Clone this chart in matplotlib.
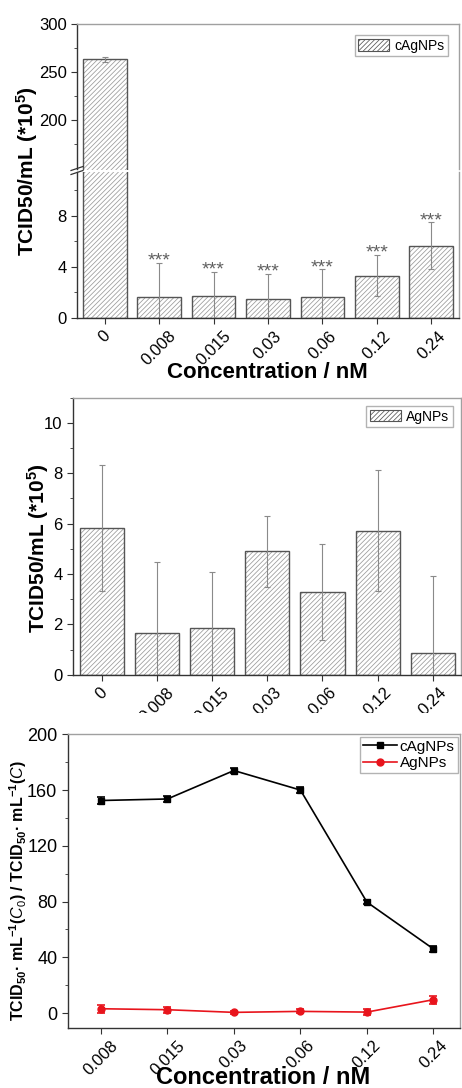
import matplotlib
matplotlib.use("Agg")
import matplotlib.pyplot as plt
import numpy as np
from matplotlib.lines import Line2D
from matplotlib.patches import Patch
from matplotlib.ticker import FixedLocator, MultipleLocator
from matplotlib.transforms import Bbox, TransformedBbox

plt.rcParams["font.family"] = ["Liberation Sans", "DejaVu Sans"]
plt.rcParams["mathtext.fontset"] = "custom"
plt.rcParams["mathtext.rm"] = "Liberation Sans"
plt.rcParams["mathtext.it"] = "Liberation Sans:italic"
plt.rcParams["mathtext.bf"] = "Liberation Sans:bold"
plt.rcParams["hatch.linewidth"] = 0.55

# ---- data ----
conc_bar = ["0", "0.008", "0.015", "0.03", "0.06", "0.12", "0.24"]
conc_line = ["0.008", "0.015", "0.03", "0.06", "0.12", "0.24"]

c_agnps_mean = [263.2, 1.67, 1.70, 1.49, 1.62, 3.32, 5.65]
c_agnps_err = [2.6, 2.67, 1.9, 1.96, 2.2, 1.63, 1.85]
c_agnps_sig = ["", "***", "***", "***", "***", "***", "***"]

agnps_mean = [5.84, 1.64, 1.87, 4.90, 3.29, 5.72, 0.87]
agnps_err = [2.5, 2.84, 2.21, 1.42, 1.91, 2.4, 3.03]

ratio_c = [152.5, 153.6, 174.0, 160.0, 79.6, 46.0]
ratio_c_err = [2.5, 2.0, 2.0, 2.0, 1.5, 2.0]
ratio_a = [3.1, 2.4, 0.5, 1.2, 0.7, 9.6]
ratio_a_err = [3.0, 2.2, 1.0, 1.5, 2.0, 3.0]

W, H = 462, 1088
HATCH_COL = "#9a9a9a"
EDGE_COL = "#555555"
ERR_COL = "#8a8a8a"
FRAME_COL = "#a0a0a0"
RED = "#e8141c"
HATCH = "///////"


def px_rect(x0, y0, x1, y1):
    return [x0 / W, 1 - y1 / H, (x1 - x0) / W, (y1 - y0) / H]


def style_axes(ax, top=True, bottom=True):
    for side in ("left", "bottom"):
        ax.spines[side].set_color("#333333")
        ax.spines[side].set_linewidth(1.0)
    for side in ("top", "right"):
        ax.spines[side].set_color(FRAME_COL)
        ax.spines[side].set_linewidth(1.0)
    ax.spines["top"].set_visible(top)
    ax.spines["bottom"].set_visible(bottom)
    ax.tick_params(which="both", direction="out", top=False, right=False,
                   labelsize=12, color="#333333")
    ax.tick_params(which="major", length=4)
    ax.tick_params(which="minor", length=2.5)


def hatched_bars(ax, x, h, err):
    ax.bar(x, h, width=0.8, color="white", edgecolor=HATCH_COL,
           linewidth=0, hatch=HATCH, zorder=1)
    ax.bar(x, h, width=0.8, fill=False, edgecolor=EDGE_COL,
           linewidth=1.0, zorder=2)
    ax.errorbar(x, h, yerr=err, fmt="none", ecolor=ERR_COL,
                elinewidth=0.8, capsize=2.5, capthick=0.8, zorder=3)


def bar_legend(ax, label, pad):
    handle = Patch(facecolor="white", edgecolor=EDGE_COL, hatch=HATCH,
                   linewidth=0.8)
    leg = ax.legend([handle], [label], loc="upper right", fontsize=10,
                    frameon=True, fancybox=False, handlelength=2.2,
                    handleheight=0.9, borderpad=0.25, handletextpad=0.4,
                    borderaxespad=pad)
    leg.get_frame().set_edgecolor(FRAME_COL)
    leg.get_frame().set_linewidth(1.0)


fig = plt.figure(figsize=(W / 100, H / 100), dpi=100)

# ---- panel 1: broken axis bar chart ----
xb = np.arange(len(conc_bar))
ax_hi = fig.add_axes(px_rect(77, 24, 459, 169.5))
ax_lo = fig.add_axes(px_rect(77, 172.5, 459, 318))

for ax in (ax_hi, ax_lo):
    hatched_bars(ax, xb, c_agnps_mean, c_agnps_err)
    ax.set_xlim(-0.51, 6.51)

ax_hi.set_ylim(148.4, 300)
ax_hi.yaxis.set_major_locator(FixedLocator([200, 250, 300]))
ax_hi.yaxis.set_minor_locator(FixedLocator([175, 225, 275]))
ax_hi.set_xticks([])
style_axes(ax_hi, top=True, bottom=False)
ax_hi.tick_params(axis="x", bottom=False, labelbottom=False)
bar_legend(ax_hi, "cAgNPs", 0.8)

ax_lo.set_ylim(0, 11.4)
ax_lo.yaxis.set_major_locator(FixedLocator([0, 4, 8]))
ax_lo.yaxis.set_minor_locator(FixedLocator([2, 6, 10]))
ax_lo.set_xticks(xb)
ax_lo.set_xticklabels(conc_bar)
style_axes(ax_lo, top=False, bottom=True)
ax_lo.tick_params(axis="x", labelrotation=45)

for xi, m, e, s in zip(xb, c_agnps_mean, c_agnps_err, c_agnps_sig):
    if s:
        ax_lo.annotate(s, (xi, m + e), xytext=(0, -2), textcoords="offset points",
                       ha="center", va="baseline", fontsize=14, color="#606060")

# break marks on the left spine
for dy in (-2.5, 1.5):
    y = 1 - (171 + dy) / H
    fig.add_artist(Line2D([71 / W, 83 / W], [y - 2 / H, y + 2 / H],
                          color="#333333", linewidth=0.9))

fig.text(27 / W, 1 - 171 / H, r"TCID50/mL (*10$^{\mathbf{5}}$)", rotation=90,
         ha="center", va="center", fontsize=15, fontweight="bold")
fig.text(267 / W, 1 - 372 / H, "Concentration / nM", ha="center", va="center",
         fontsize=16, fontweight="bold")

# ---- panel 2: AgNPs bars ----
ax2 = fig.add_axes(px_rect(73, 397.7, 461, 674.7))
hatched_bars(ax2, xb, agnps_mean, agnps_err)
ax2.set_xlim(-0.52, 6.51)
ax2.set_ylim(0, 11)
ax2.yaxis.set_major_locator(MultipleLocator(2))
ax2.yaxis.set_minor_locator(MultipleLocator(1))
ax2.set_xticks(xb)
ax2.set_xticklabels(conc_bar)
style_axes(ax2)
ax2.tick_params(axis="x", labelrotation=45)
bar_legend(ax2, "AgNPs", 0.6)
# the reference panel is cropped just below its tick labels
clip = TransformedBbox(Bbox([[0, 1 - 713 / H], [1, 1]]), fig.transFigure)
for lab in ax2.get_xticklabels():
    lab.set_clip_box(clip)
    lab.set_clip_on(True)

fig.text(38 / W, 1 - 548 / H, r"TCID50/mL (*10$^{\mathbf{5}}$)", rotation=90,
         ha="center", va="center", fontsize=15, fontweight="bold")

# ---- panel 3: ratio lines ----
xl = np.arange(len(conc_line))
ax3 = fig.add_axes(px_rect(67.7, 734.3, 460, 1027.7))
ax3.errorbar(xl, ratio_c, yerr=ratio_c_err, color="black", marker="s",
             markersize=5, linewidth=1.2, capsize=3, capthick=1.2,
             elinewidth=1.2)
ax3.errorbar(xl, ratio_a, yerr=ratio_a_err, color=RED, marker="o",
             markersize=5, linewidth=1.2, capsize=3, capthick=1.2,
             elinewidth=1.2)
ax3.set_xlim(-0.5, 5.4)
ax3.set_ylim(-10.5, 200)
ax3.yaxis.set_major_locator(MultipleLocator(40))
ax3.yaxis.set_minor_locator(MultipleLocator(20))
ax3.set_xticks(xl)
ax3.set_xticklabels(conc_line)
style_axes(ax3)
ax3.tick_params(axis="x", labelrotation=45, labelsize=12)
ax3.tick_params(axis="y", labelsize=13)
handles = [Line2D([], [], color="black", marker="s", markersize=5, linewidth=1.2),
           Line2D([], [], color=RED, marker="o", markersize=5, linewidth=1.2)]
leg = ax3.legend(handles, ["cAgNPs", "AgNPs"], loc="upper right", fontsize=11,
                 frameon=True, fancybox=False, handlelength=2.2, borderpad=0.2,
                 handletextpad=0.2, labelspacing=0.15, borderaxespad=0.15)
leg.get_frame().set_edgecolor(FRAME_COL)

fig.text(18 / W, 1 - 891 / H,
         r"TCID$_{\mathbf{50}}$· mL$^{\mathbf{-1}}$($\mathit{C_0}$) / "
         r"TCID$_{\mathbf{50}}$· mL$^{\mathbf{-1}}$($\mathit{C}$)",
         rotation=90, ha="center", va="center", fontsize=11.5,
         fontweight="bold")
fig.text(263 / W, 1 - 1077 / H, "Concentration / nM", ha="center",
         va="center", fontsize=17, fontweight="bold")

fig.savefig("out.png", dpi=100)
